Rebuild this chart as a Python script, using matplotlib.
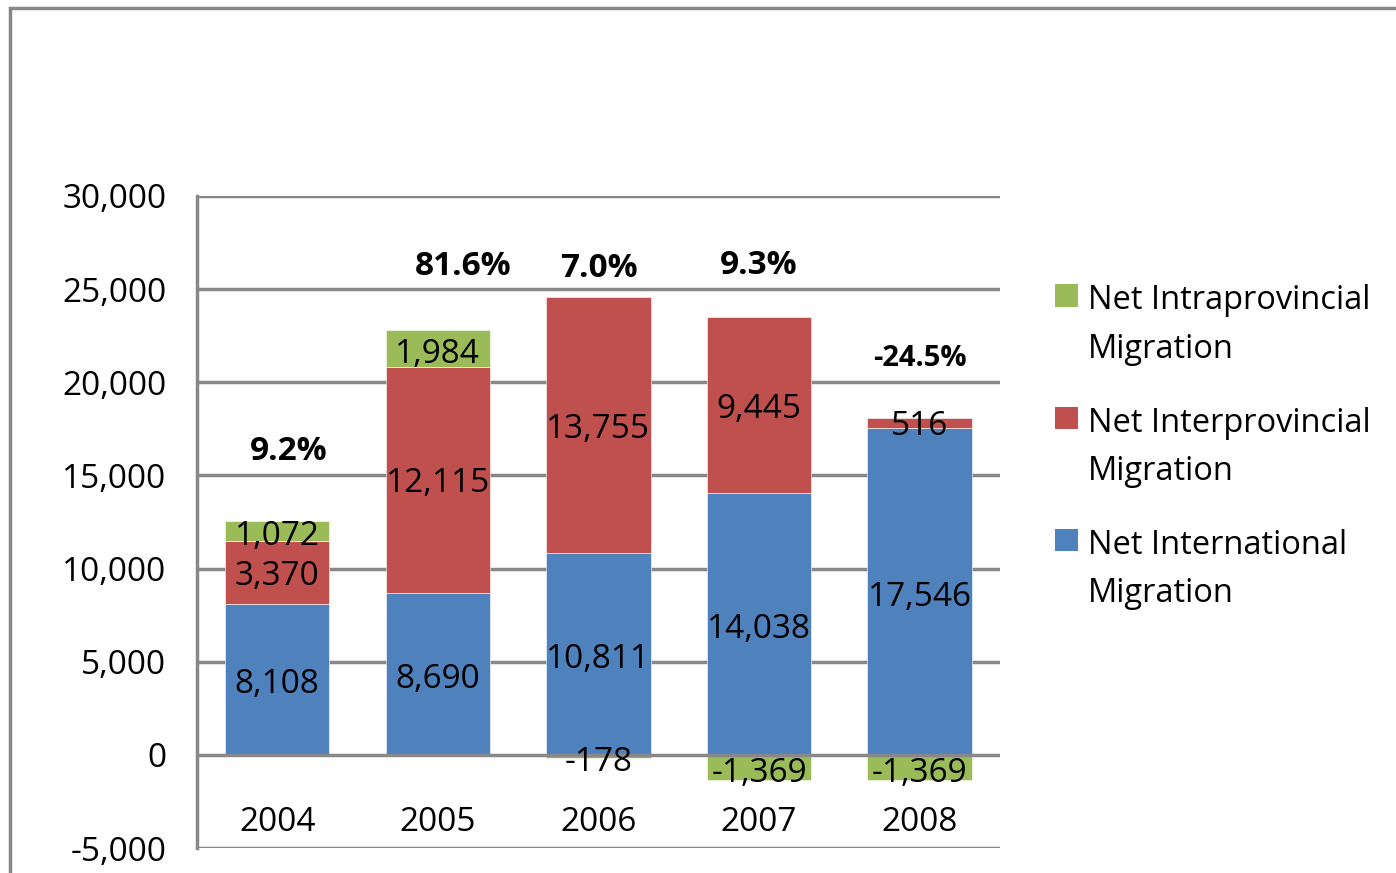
import matplotlib.pyplot as plt
import numpy as np
from matplotlib.patches import Rectangle
from matplotlib.legend_handler import HandlerPatch
from matplotlib.container import BarContainer

years = ['2004', '2005', '2006', '2007', '2008']
international = [8108, 8690, 10811, 14038, 17546]
interprovincial = [3370, 12115, 13755, 9445, 516]
intraprovincial = [1072, 1984, -178, -1369, -1369]
growth = ['9.2%', '81.6%', '7.0%', '9.3%', '-24.5%']

# hand-placed growth labels (layout, not data)
growth_x_shift = [0.07, 0.16, 0.0, 0.0, 0.0]
growth_y = [16300, 26230, 26120, 26280, 21260]
growth_size = [24, 24, 24, 24, 21]

BLUE = '#4F81BD'
RED = '#C0504D'
GREEN = '#9BBB59'
GRID = '#888888'

plt.rcParams['font.family'] = ['Open Sans', 'DejaVu Sans']

fig = plt.figure(figsize=(13.96, 8.73), dpi=100)
ax = fig.add_axes([0.1411, 0.0286, 0.5752, 0.7469])

# outer chart border
fig.patches.append(Rectangle((10 / 1396, -0.1), 1.2, (873 - 8) / 873 + 0.1,
                             transform=fig.transFigure, fill=False,
                             edgecolor=GRID, linewidth=2.5))

x = np.arange(len(years))
w = 0.65
intl = np.array(international)
inter = np.array(interprovincial)
intra = np.array(intraprovincial)

intra_bottom = np.where(intra >= 0, intl + inter, 0)

ax.bar(x, intl, w, color=BLUE, edgecolor='white', linewidth=0.4, zorder=2,
       label='Net International\nMigration')
ax.bar(x, inter, w, bottom=intl, color=RED, edgecolor='white', linewidth=0.4,
       zorder=2, label='Net Interprovincial\nMigration')
ax.bar(x, intra, w, bottom=intra_bottom, color=GREEN, edgecolor='white',
       linewidth=0.4, zorder=2, label='Net Intraprovincial\nMigration')

def label(vals, bottoms, dy=0):
    for xi, v, b in zip(x, vals, bottoms):
        ax.text(xi, b + v / 2 + dy, f'{v:,}', ha='center', va='center',
                fontsize=24, zorder=4)

label(intl, np.zeros_like(intl), -300)
label(inter, intl, -200)
label(intra, intra_bottom, -300)

for xi, g, dx, gy, gs in zip(x, growth, growth_x_shift, growth_y, growth_size):
    ax.text(xi + dx, gy, g, ha='center', va='center', fontsize=gs,
            fontweight='bold', zorder=4)

for xi, yr in zip(x, years):
    ax.text(xi, -3650, yr, ha='center', va='center', fontsize=24)

ax.set_xlim(-0.5, 4.5)
ax.set_ylim(-5000, 30000)
ax.set_yticks(np.arange(-5000, 30001, 5000))
ax.set_yticklabels([f'{v:,}' for v in np.arange(-5000, 30001, 5000)], fontsize=24)
ax.set_xticks([])
ax.tick_params(axis='y', length=0, pad=22)

for yv in np.arange(-5000, 30001, 5000):
    ax.axhline(yv, color=GRID, linewidth=2.5, zorder=1 if yv != 0 else 3)

for name, spine in ax.spines.items():
    if name == 'left':
        spine.set_color(GRID)
        spine.set_linewidth(2.5)
    else:
        spine.set_visible(False)


def top_square(legend, orig_handle, xdescent, ydescent, width, height, fontsize):
    # put the swatch beside the first line of the two-line label
    return Rectangle((-xdescent, -ydescent + 22), width, height)


def first_bar(legend_handle, orig_handle):
    legend_handle.update_from(orig_handle.patches[0])
    legend_handle.set_linewidth(0)


handles, labels = ax.get_legend_handles_labels()
leg = fig.legend(handles[::-1], labels[::-1], loc='upper left',
                 bbox_to_anchor=(1039 / 1396, 1 - 268 / 873), frameon=False,
                 fontsize=23.5, handlelength=0.68, handleheight=0.68,
                 handletextpad=0.33, labelspacing=1.25, borderpad=0,
                 handler_map={BarContainer: HandlerPatch(patch_func=top_square,
                                                         update_func=first_bar)})
for t in leg.get_texts():
    t.set_linespacing(1.62)

fig.savefig('out.png', dpi=100)
